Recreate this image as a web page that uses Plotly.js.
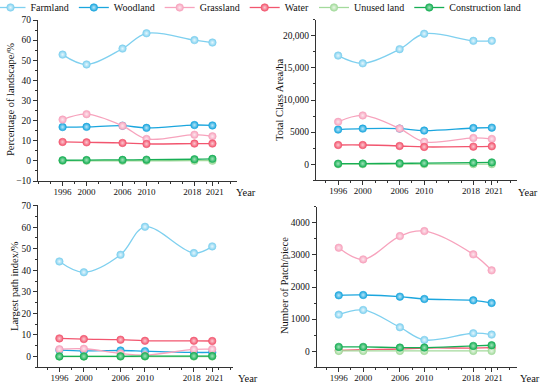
<!DOCTYPE html>
<html>
<head>
<meta charset="utf-8">
<script src="https://cdn.plot.ly/plotly-3.0.1.min.js"></script>
<style>html,body{margin:0;padding:0;background:#fff;}#chart{width:550px;height:389px;}</style>
</head>
<body>
<div id="chart"></div>
<script>
// ---------- DATA ----------
const years = [1996, 2000, 2006, 2010, 2018, 2021];
const yearLabels = ['1996', '2000', '2006', '2010', '2018\u00a0\u00a0', '\u00a0\u00a02021'];
const categories = ['Farmland', 'Woodland', 'Grassland', 'Water', 'Unused land', 'Construction land'];

// Panel 1: Percentage of landscape (%)
const plandFarmland     = [52.8, 47.9, 55.8, 63.4, 60.0, 58.8];
const plandWoodland     = [16.8, 16.9, 17.5, 16.4, 17.8, 17.6];
const plandGrassland    = [20.5, 23.2, 17.4, 10.9, 13.0, 12.2];
const plandWater        = [9.4, 9.2, 8.9, 8.4, 8.6, 8.6];
const plandUnused       = [0.05, 0.05, 0.06, 0.06, 0.08, 0.08];
const plandConstruction = [0.3, 0.4, 0.5, 0.6, 0.8, 1.0];

// Panel 2: Total class area (ha)
const caFarmland     = [16900, 15700, 17900, 20300, 19200, 19200];
const caWoodland     = [5400, 5550, 5550, 5250, 5650, 5700];
const caGrassland    = [6600, 7600, 5550, 3500, 4100, 3950];
const caWater        = [3000, 3000, 2850, 2700, 2750, 2800];
const caUnused       = [20, 20, 25, 25, 30, 30];
const caConstruction = [100, 110, 150, 180, 250, 300];

// Panel 3: Largest patch index (%)
const lpiFarmland     = [44.1, 39.1, 47.2, 60.2, 48.0, 51.1];
const lpiWoodland     = [3.0, 2.6, 2.8, 2.5, 1.9, 1.9];
const lpiGrassland    = [3.4, 3.6, 1.4, 0.6, 3.3, 3.4];
const lpiWater        = [8.4, 8.1, 7.8, 7.3, 7.3, 7.2];
const lpiUnused       = [0.01, 0.01, 0.01, 0.01, 0.01, 0.01];
const lpiConstruction = [0.05, 0.05, 0.1, 0.15, 0.2, 0.2];

// Panel 4: Number of patches (piece)
const npFarmland     = [1140, 1285, 746, 352, 560, 518];
const npWoodland     = [1741, 1751, 1699, 1627, 1585, 1503];
const npGrassland    = [3223, 2860, 3585, 3741, 3016, 2518];
const npWater        = [30, 50, 70, 100, 100, 110];
const npUnused       = [10, 10, 10, 10, 10, 10];
const npConstruction = [135, 135, 114, 114, 166, 187];

// Axis tick values/labels
const yTicks1 = [-10, 0, 10, 20, 30, 40, 50, 60, 70];
const yTicks2 = [0, 5000, 10000, 15000, 20000];
const yTickText2 = ['0', '5000', '10,000', '15,000', '20,000'];
const yTicks3 = [0, 10, 20, 30, 40, 50, 60, 70];
const yTicks4 = [0, 1000, 2000, 3000, 4000];

// ---------- STYLE ----------
const colors = ['#7fd0ef', '#1ba6de', '#f7a3bd', '#f2566f', '#a3da9c', '#17ae55'];
const centers = ['#e6f7fd', '#b9e6f8', '#fde6ee', '#fcc9d1', '#e8f7e5', '#9fe3b8'];
const FONT = 'Liberation Serif, Times New Roman, serif';

const panels = [
  {series: [plandFarmland, plandWoodland, plandGrassland, plandWater, plandUnused, plandConstruction], xa: 'x', ya: 'y'},
  {series: [caFarmland, caWoodland, caGrassland, caWater, caUnused, caConstruction], xa: 'x2', ya: 'y2'},
  {series: [lpiFarmland, lpiWoodland, lpiGrassland, lpiWater, lpiUnused, lpiConstruction], xa: 'x3', ya: 'y3'},
  {series: [npFarmland, npWoodland, npGrassland, npWater, npUnused, npConstruction], xa: 'x4', ya: 'y4'}
];

const traces = [];
panels.forEach((p, pi) => {
  categories.forEach((c, i) => {
    traces.push({
      x: years, y: p.series[i], xaxis: p.xa, yaxis: p.ya,
      type: 'scatter', mode: 'lines+markers', name: c,
      legendgroup: c, showlegend: pi === 0,
      line: {color: colors[i], width: 1.3, shape: 'spline', smoothing: 1},
      marker: {size: 7.5, color: colors[i], symbol: 'circle',
               gradient: {type: 'radial', color: centers[i]},
               line: {width: 0.6, color: colors[i]}},
      cliponaxis: false
    });
  });
});

function xAxis(domain, range, anchor) {
  return {
    domain: domain, range: range, anchor: anchor,
    tickmode: 'array', tickvals: years, ticktext: yearLabels,
    tickangle: 0, automargin: false, ticklabelstandoff: -2,
    ticks: 'outside', ticklen: 4, tickwidth: 1, tickcolor: '#333',
    minor: {ticks: 'outside', ticklen: 2, tickwidth: 1, tickcolor: '#333', tick0: 1996, dtick: 2},
    showline: true, linecolor: '#333', linewidth: 1, mirror: false,
    showgrid: false, zeroline: false,
    tickfont: {family: FONT, size: 9, color: '#111'}
  };
}
function yAxis(domain, range, anchor, tickvals, ticktext, minorStep) {
  const a = {
    domain: domain, range: range, anchor: anchor,
    tickmode: 'array', tickvals: tickvals, automargin: false,
    ticks: 'outside', ticklen: 4, tickwidth: 1, tickcolor: '#333',
    minor: {ticks: 'outside', ticklen: 2, tickwidth: 1, tickcolor: '#333', tick0: 0, dtick: minorStep},
    showline: true, linecolor: '#333', linewidth: 1, mirror: false,
    showgrid: false, zeroline: false,
    tickfont: {family: FONT, size: 9.5, color: '#111'}
  };
  if (ticktext) a.ticktext = ticktext;
  return a;
}

const H = 389, W = 550;
const px = v => v / W;
const py = v => 1 - v / H;

function ann(text, x, y, rot) {
  return {text: text, x: px(x), y: py(y), xref: 'paper', yref: 'paper',
          xanchor: 'center', yanchor: 'middle', textangle: rot, showarrow: false,
          font: {family: FONT, size: 10.5, color: '#111'}};
}

const layout = {
  width: W, height: H,
  margin: {l: 0, r: 0, t: 0, b: 0, autoexpand: false},
  paper_bgcolor: '#fff', plot_bgcolor: '#fff',
  font: {family: FONT, size: 10, color: '#111'},
  showlegend: true,
  legend: {orientation: 'h', x: 0.47, xanchor: 'center', y: 1.018, yanchor: 'top',
           font: {family: FONT, size: 10, color: '#111'}, itemwidth: 30,
           tracegroupgap: 0, bgcolor: 'rgba(0,0,0,0)'},
  xaxis:  xAxis([px(38), px(237)], [1991.9, 2025.1], 'y'),
  yaxis:  yAxis([py(181), py(20)], [-10, 70], 'x', yTicks1, null, 5),
  xaxis2: xAxis([px(316), px(517)], [1992.4, 2025.1], 'y2'),
  yaxis2: yAxis([py(180.4), py(19.6)], [-2500, 22500], 'x2', yTicks2, yTickText2, 2500),
  xaxis3: xAxis([px(38), px(233)], [1992.5, 2024.4], 'y3'),
  yaxis3: yAxis([py(367.3), py(205)], [-5, 70.3], 'x3', yTicks3, null, 5),
  xaxis4: xAxis([px(316.7), px(516.7)], [1992.4, 2025.1], 'y4'),
  yaxis4: yAxis([py(367.3), py(206.7)], [-500, 4500], 'x4', yTicks4, null, 500),
  annotations: [
    ann('Percentage of landscape/%', 10, 100, -90),
    ann('Total Class Area/ha', 279, 100, -90),
    ann('Largest path index/%', 14, 286, -90),
    ann('Number of Patch/piece', 284, 286, -90),
    ann('Year', 246, 192, 0),
    ann('Year', 528, 192, 0),
    ann('Year', 248, 378, 0),
    ann('Year', 530, 378, 0)
  ]
};

Plotly.newPlot('chart', traces, layout, {displayModeBar: false, staticPlot: true});
</script>
</body>
</html>
